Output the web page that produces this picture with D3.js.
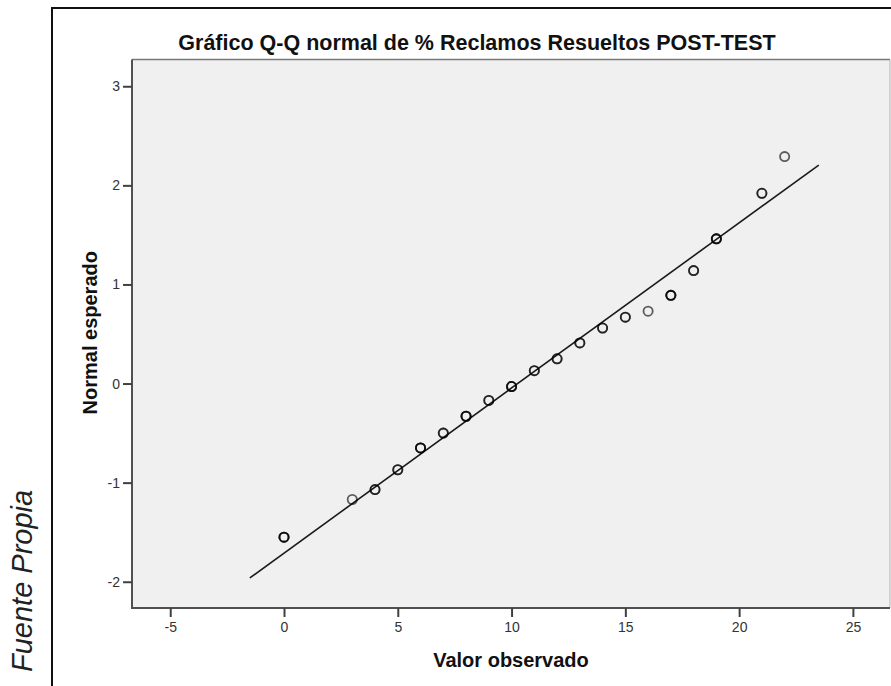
<!DOCTYPE html>
<html>
<head>
<meta charset="utf-8">
<script src="https://cdn.jsdelivr.net/npm/d3@7"></script>
<style>
  html, body { margin: 0; padding: 0; background: #ffffff; }
  svg { display: block; font-family: "Liberation Sans", Arial, sans-serif; }
</style>
</head>
<body>
<svg id="chart" width="891" height="686"></svg>
<script>
// Observed values (% reclamos resueltos) and their expected normal scores
const observed = [0, 3, 4, 5, 6, 7, 8, 9, 10, 11, 12, 13, 14, 15, 16, 17, 18, 19, 21, 22];
const expected = [-1.55, -1.17, -1.07, -0.87, -0.65, -0.50, -0.33, -0.17, -0.03, 0.13, 0.25, 0.41, 0.56, 0.67, 0.73, 0.89, 1.14, 1.46, 1.92, 2.29];
// How many cases share each observed value (overlapping markers)
const frequency = [3, 1, 2, 2, 3, 2, 3, 2, 3, 2, 2, 2, 2, 2, 1, 3, 2, 3, 2, 1];

// Reference line: normal with the sample mean and standard deviation
const lineMean = 10.27;
const lineSD = 6.0;
const lineRange = [-1.5, 23.5];

// Axis extents and tick labels
const xDomain = [-6.68, 26.63];
const yDomain = [-2.265, 3.27];
const xTicks = [-5, 0, 5, 10, 15, 20, 25];
const yTicks = [-2, -1, 0, 1, 2, 3];

const titleText = "Gráfico Q-Q normal de % Reclamos Resueltos POST-TEST";
const xLabel = "Valor observado";
const yLabel = "Normal esperado";
const sourceText = "Fuente Propia";

const svg = d3.select("#chart");

const plot = { left: 132, top: 59.5, right: 890, bottom: 608 };

const x = d3.scaleLinear().domain(xDomain).range([plot.left, plot.right]);
const y = d3.scaleLinear().domain(yDomain).range([plot.bottom, plot.top]);

// Outer frame (only top and left edges fall inside the page)
svg.append("path")
  .attr("d", `M52,686 L52,8 L891,8`)
  .attr("fill", "none")
  .attr("stroke", "#111")
  .attr("stroke-width", 2);

// Plot background
svg.append("rect")
  .attr("x", plot.left).attr("y", plot.top)
  .attr("width", plot.right - plot.left)
  .attr("height", plot.bottom - plot.top)
  .attr("fill", "#f0f0f0");

// Top and right borders of the plot area
svg.append("line")
  .attr("x1", plot.left).attr("x2", plot.right)
  .attr("y1", plot.top).attr("y2", plot.top)
  .attr("stroke", "#777").attr("stroke-width", 1.5);
svg.append("line")
  .attr("x1", plot.right).attr("x2", plot.right)
  .attr("y1", plot.top).attr("y2", plot.bottom)
  .attr("stroke", "#b0b0b0").attr("stroke-width", 1);

// Axes (plain integer labels with an ASCII hyphen for negatives)
const plainInt = d => String(d);
const xAxis = d3.axisBottom(x).tickValues(xTicks).tickFormat(plainInt)
  .tickSize(9).tickSizeOuter(0).tickPadding(5);
const yAxis = d3.axisLeft(y).tickValues(yTicks).tickFormat(plainInt)
  .tickSize(9).tickSizeOuter(0).tickPadding(3);

const gx = svg.append("g")
  .attr("transform", `translate(0,${plot.bottom})`)
  .call(xAxis);
const gy = svg.append("g")
  .attr("transform", `translate(${plot.left},0)`)
  .call(yAxis);

[gx, gy].forEach(g => {
  g.select(".domain").attr("stroke", "#505050").attr("stroke-width", 2);
  g.selectAll(".tick line").attr("stroke", "#404040").attr("stroke-width", 2);
  g.selectAll(".tick text")
    .attr("fill", "#333")
    .style("font-size", "14px")
    .style("font-family", "'Liberation Sans', Arial, sans-serif");
});
// extend domain lines to the plot corner
gx.select(".domain").attr("d", `M${plot.left - 1},0H${plot.right}`);
gy.select(".domain").attr("d", `M0,${plot.top}V${plot.bottom + 1}`);

// Reference line
svg.append("line")
  .attr("x1", x(lineRange[0]))
  .attr("y1", y((lineRange[0] - lineMean) / lineSD))
  .attr("x2", x(lineRange[1]))
  .attr("y2", y((lineRange[1] - lineMean) / lineSD))
  .attr("stroke", "#1a1a1a")
  .attr("stroke-width", 1.6);

// Points: one hollow marker per case, stacked on tied values
const points = observed.map((v, i) => ({ v, z: expected[i], n: frequency[i] }));
const markers = [];
points.forEach(p => { for (let k = 0; k < p.n; k++) markers.push(p); });

svg.append("g")
  .selectAll("circle")
  .data(markers)
  .join("circle")
  .attr("cx", d => x(d.v))
  .attr("cy", d => y(d.z))
  .attr("r", 4.6)
  .attr("fill", "none")
  .attr("stroke", "#000")
  .attr("stroke-opacity", 0.62)
  .attr("stroke-width", 1.8);

// Title
svg.append("text")
  .attr("x", 477)
  .attr("y", 50)
  .attr("text-anchor", "middle")
  .style("font-size", "21.5px")
  .style("font-weight", "bold")
  .attr("fill", "#111")
  .text(titleText);

// Axis titles
svg.append("text")
  .attr("x", (plot.left + plot.right) / 2)
  .attr("y", 667)
  .attr("text-anchor", "middle")
  .style("font-size", "20px")
  .style("font-weight", "bold")
  .attr("fill", "#111")
  .text(xLabel);

svg.append("text")
  .attr("transform", `translate(97,${(plot.top + plot.bottom) / 2 - 1}) rotate(-90)`)
  .attr("text-anchor", "middle")
  .style("font-size", "20px")
  .style("font-weight", "bold")
  .attr("fill", "#111")
  .text(yLabel);

// Source note
svg.append("text")
  .attr("transform", `translate(32,672) rotate(-90)`)
  .attr("text-anchor", "start")
  .style("font-size", "29px")
  .style("font-style", "italic")
  .attr("fill", "#222")
  .text(sourceText);
</script>
</body>
</html>
